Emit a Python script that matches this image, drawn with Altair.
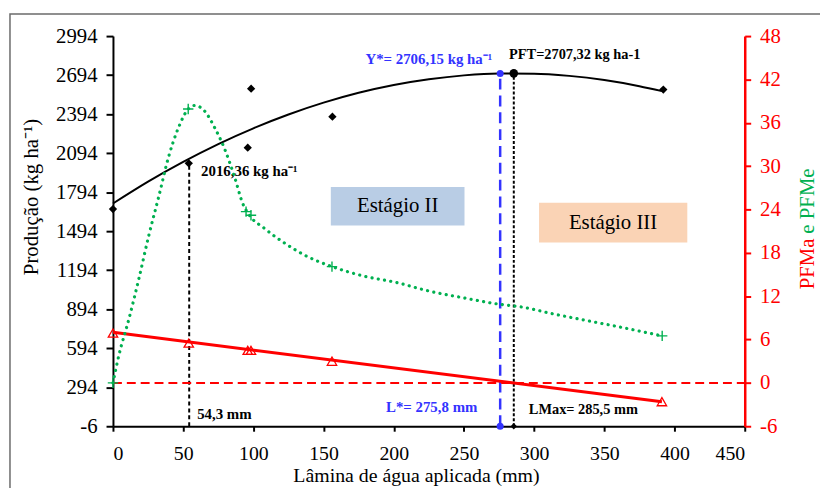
import altair as alt
import pandas as pd

# ---------------- data ----------------
lamina_obs = [0, 54, 96, 98.4, 156.3, 392]
producao_obs = [1664, 2016, 2136, 2590, 2374, 2583]

lamina_curva = [0, 25, 50, 75, 100, 125, 150, 175, 200, 225, 250, 275, 300, 325, 350, 375, 391]
producao_curva = [1707, 1875, 2027, 2164, 2285, 2391, 2482, 2558, 2618, 2662, 2692, 2706, 2705, 2688, 2656, 2609, 2571]

lamina_pfme = [0, 53.6, 94.8, 98.3, 156, 391.2]
pfme_obs = [0, 37.9, 23.7, 23.2, 16.1, 6.5]

lamina_pfme_curva = [0, 4.2, 11.3, 18.3, 25.4, 32.5, 39.5, 46.6, 53.6, 58.4, 65.4, 72.5, 79.5,
                     86.6, 92.5, 97.2, 107.8, 124.2, 138.3, 156, 178.3, 201.8, 225.3, 248.9,
                     274.7, 291.2, 314.8, 338.3, 361.8, 391.2]
pfme_curva = [0, 3.8, 8.8, 14.3, 20.3, 25.7, 31.2, 35.3, 37.9, 38.4, 37.6, 35.3, 32.4,
              28.5, 24.8, 23.2, 21.4, 19.1, 17.5, 16.1, 14.8, 13.9, 12.7, 11.8,
              10.9, 10.5, 9.5, 8.6, 7.7, 6.5]

lamina_pfma = [0, 54, 96, 98.3, 156, 391]
pfma_obs = [6.9, 5.5, 4.5, 4.5, 3.0, -2.6]
lamina_pfma_reta = [0, 391]
pfma_reta = [7.0, -2.6]

L_prod, Y_prod = 54.3, 2016.36
L_star, Y_star = 275.8, 2706.15
L_max, PFT = 285.5, 2707.32

x_ticks = list(range(0, 451, 50))
yl_ticks = list(range(-6, 2995, 300))
yr_ticks = list(range(-6, 49, 6))

# ---------------- tables ----------------
df_obs = pd.DataFrame({"x": lamina_obs, "y": producao_obs})
df_curva = pd.DataFrame({"x": lamina_curva, "y": producao_curva})
df_pfme = pd.DataFrame({"x": lamina_pfme, "y": pfme_obs})
df_pfme_c = pd.DataFrame({"x": lamina_pfme_curva, "y": pfme_curva})
df_pfma = pd.DataFrame({"x": lamina_pfma, "y": pfma_obs})
df_pfma_r = pd.DataFrame({"x": lamina_pfma_reta, "y": pfma_reta})
df_one = pd.DataFrame({"k": [0]})

FONT = "Liberation Serif, Times New Roman, serif"
BLUE = "#3333FF"
GREEN = "#00B050"
RED = "#FF0000"

xaxis = alt.Axis(values=x_ticks, title="Lâmina de água aplicada (mm)", grid=False,
                 labelFont=FONT, titleFont=FONT,
                 labelFontSize=20, titleFontSize=20, titleFontWeight="normal",
                 tickSize=5, tickWidth=2, domainWidth=2, domainColor="black",
                 tickColor="black", labelColor="black", titleColor="black",
                 labelPadding=13, titleX=306, titleY=56, titleBaseline="alphabetic",
                 labelExpr="'' + datum.value")
ylaxis = alt.Axis(values=yl_ticks, title="Produção (kg ha⁻¹)", grid=False,
                  labelFont=FONT, titleFont=FONT,
                  labelFontSize=21, titleFontSize=21, titleFontWeight="normal",
                  tickSize=7, tickWidth=2, domainWidth=2, domainColor="black",
                  tickColor="black", labelColor="black", titleColor="black",
                  labelPadding=9, titlePadding=14, titleY=162,
                  labelExpr="'' + datum.value")
yraxis = alt.Axis(values=yr_ticks, title="", orient="right", grid=False,
                  labelFont=FONT,
                  labelFontSize=21, tickSize=6, tickWidth=2, domainWidth=2.5,
                  domainColor=RED, tickColor=RED, labelColor=RED, labelPadding=9,
                  labelExpr="'' + datum.value")

xscale = alt.Scale(domain=[0, 450], nice=False, zero=False)
ylscale = alt.Scale(domain=[-6, 2994], nice=False, zero=False)
yrscale = alt.Scale(domain=[-6, 48], nice=False, zero=False)


def X(f):
    return alt.X(f, type="quantitative", scale=xscale, axis=xaxis)


def YL(f):
    return alt.Y(f, type="quantitative", scale=ylscale, axis=ylaxis)


def YR(f):
    return alt.Y(f, type="quantitative", scale=yrscale, axis=yraxis)


# ---------------- decorations (pixel positions) ----------------
border = alt.Chart(df_one).mark_rect(fill="transparent", stroke="#6b6b6b", strokeWidth=1.5).encode(
    x=alt.value(-104), x2=alt.value(720), y=alt.value(-22.3), y2=alt.value(480))

box2 = alt.Chart(df_one).mark_rect(color="#B9CDE5").encode(
    x=alt.value(220), x2=alt.value(355), y=alt.value(152.4), y2=alt.value(191.4))
box3 = alt.Chart(df_one).mark_rect(color="#FAD3B5").encode(
    x=alt.value(430.3), x2=alt.value(580), y=alt.value(168.4), y2=alt.value(208.4))


def txt(s, x, y, size=15, color="black", weight="bold", align="left", angle=0, baseline="middle"):
    return alt.Chart(df_one).mark_text(text=s, fontSize=size, color=color, fontWeight=weight,
                                       align=align, baseline=baseline, angle=angle, font=FONT).encode(
        x=alt.value(x), y=alt.value(y))


texts = [
    txt("Estágio II", 287.5, 172, size=21, weight="normal", align="center"),
    txt("Estágio III", 505, 188.5, size=21, weight="normal", align="center"),
    txt("2016,36 kg ha⁻¹", 89, 136, size=15),
    txt("54,3 mm", 85, 381.5, size=15),
    txt("Y*= 2706,15 kg ha⁻¹", 383, 22.7, size=15, color=BLUE, align="right"),
    txt("PFT=2707,32 kg ha-1", 400, 19, size=14.5),
    txt("L*= 275,8 mm", 368, 375, size=15, color=BLUE, align="right"),
    txt("LMax= 285,5 mm", 420, 377.4, size=14.5),
    txt("PFMa", 708, 255.7, size=21, color=RED, weight="normal", angle=270, baseline="alphabetic"),
    txt("e PFMe", 708, 199.5, size=21, color=GREEN, weight="normal", angle=270, baseline="alphabetic"),
]

# ---------------- production (left axis) ----------------
curva = alt.Chart(df_curva).mark_line(color="black", strokeWidth=2, interpolate="monotone").encode(
    x=X("x"), y=YL("y"))
obs = alt.Chart(df_obs).mark_point(shape="diamond", filled=True, color="black", size=70, opacity=1).encode(
    x=X("x"), y=YL("y"))

rule_prod = alt.Chart(pd.DataFrame({"x": [L_prod], "y0": [-6], "y1": [Y_prod]})).mark_rule(
    color="black", strokeWidth=2, strokeDash=[4, 3]).encode(x=X("x"), y=YL("y0"), y2=alt.Y2("y1"))
rule_max = alt.Chart(pd.DataFrame({"x": [L_max], "y0": [-6], "y1": [PFT]})).mark_rule(
    color="black", strokeWidth=2, strokeDash=[3, 2]).encode(x=X("x"), y=YL("y0"), y2=alt.Y2("y1"))
rule_star = alt.Chart(pd.DataFrame({"x": [L_star], "y0": [-6], "y1": [Y_star]})).mark_rule(
    color=BLUE, strokeWidth=2.5, strokeDash=[11, 6]).encode(x=X("x"), y=YL("y0"), y2=alt.Y2("y1"))

pt_star = alt.Chart(pd.DataFrame({"x": [L_star, L_star], "y": [Y_star, -6]})).mark_point(
    shape="circle", filled=True, color=BLUE, size=50, opacity=1).encode(x=X("x"), y=YL("y"))
pt_pft = alt.Chart(pd.DataFrame({"x": [L_max], "y": [PFT]})).mark_point(
    shape="circle", filled=True, color="black", size=75, opacity=1).encode(x=X("x"), y=YL("y"))
pt_lmax = alt.Chart(pd.DataFrame({"x": [L_max], "y": [-6]})).mark_point(
    shape="diamond", filled=True, color="black", size=40, opacity=1).encode(x=X("x"), y=YL("y"))

left = alt.layer(border, box2, box3, curva, rule_prod, rule_star, rule_max, obs, pt_star, pt_pft, pt_lmax, *texts)

# ---------------- PFMa / PFMe (right axis) ----------------
zero = alt.Chart(pd.DataFrame({"x0": [0], "x1": [450], "y": [0]})).mark_rule(
    color=RED, strokeWidth=2, strokeDash=[9, 5]).encode(x=X("x0"), x2=alt.X2("x1"), y=YR("y"))
pfma_line = alt.Chart(df_pfma_r).mark_line(color=RED, strokeWidth=3).encode(x=X("x"), y=YR("y"))
pfma_pts = alt.Chart(df_pfma).mark_point(shape="triangle-up", filled=False, color=RED, size=90,
                                         strokeWidth=1.3, opacity=1).encode(x=X("x"), y=YR("y"))
pfme_line = alt.Chart(df_pfme_c).mark_line(color=GREEN, strokeWidth=3.2, strokeDash=[0.1, 6.3],
                                           strokeCap="round", interpolate="monotone").encode(
    x=X("x"), y=YR("y"))
pfme_pts = alt.Chart(df_pfme).mark_point(shape="M-1,0L1,0M0,-1L0,1", filled=False, color=GREEN,
                                         size=110, strokeWidth=1.4, opacity=1).encode(
    x=X("x"), y=YR("y"))

right = alt.layer(zero, pfma_line, pfma_pts, pfme_line, pfme_pts)

chart = alt.layer(left, right).resolve_scale(y="independent").properties(
    width=638, height=394,
    padding={"left": 106, "top": 26, "right": 76, "bottom": 60},
    autosize="none",
).configure(font=FONT).configure_view(stroke="transparent")

chart.save("out.html", embed_options={"renderer": "svg", "actions": False})
